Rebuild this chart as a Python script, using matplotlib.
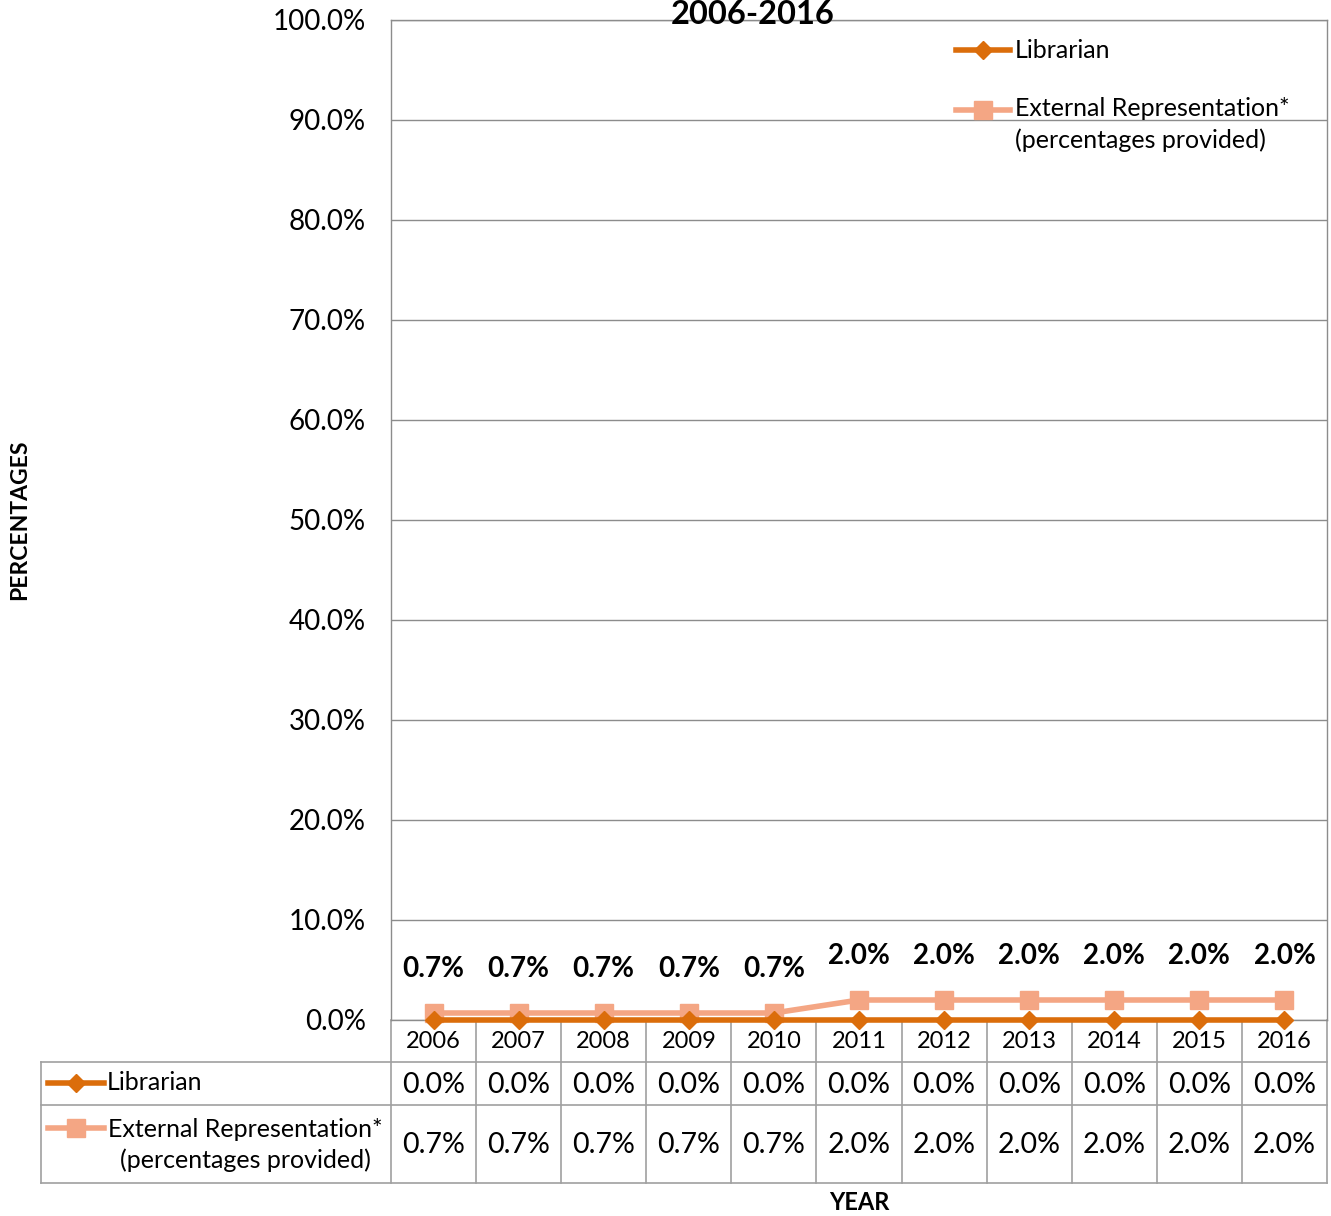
import numpy as np
import matplotlib.pyplot as plt
import matplotlib.transforms as mtransforms

plt.rcParams['font.family'] = ['Lato', 'DejaVu Sans']

years = ['2006', '2007', '2008', '2009', '2010', '2011', '2012', '2013', '2014', '2015', '2016']
librarian = [0.0, 0.0, 0.0, 0.0, 0.0, 0.0, 0.0, 0.0, 0.0, 0.0, 0.0]
external = [0.7, 0.7, 0.7, 0.7, 0.7, 2.0, 2.0, 2.0, 2.0, 2.0, 2.0]
names = ['Librarian', 'External Representation*\n(percentages provided)']
yticks = np.arange(0, 101, 10)

c_lib = '#DB6D0B'
c_ext = '#F4A684'
c_grid = '#8C8C8C'

W, H = 1331, 1216
fig = plt.figure(figsize=(W / 100, H / 100), dpi=100)
L, R, T, B = 391, 1327, 20, 1020
ax = fig.add_axes([L / W, 1 - B / H, (R - L) / W, (B - T) / H])

# pixel -> axes fraction helpers for layout
def fx(px):
    return (px - L) / (R - L)

def fy(py):
    return (B - py) / (B - T)

x = np.arange(len(years))
ax.set_xlim(-0.5, len(years) - 0.5)
ax.set_ylim(0, 100)
ax.set_yticks(yticks)
ax.set_yticklabels([f'{v:.1f}%' for v in yticks], fontsize=20)
ax.set_xticks([])
ax.tick_params(axis='y', length=0, pad=18)
ax.yaxis.grid(True, color=c_grid, lw=1)
ax.set_axisbelow(True)
for s in ax.spines.values():
    s.set_color(c_grid)
    s.set_linewidth(1)

ax.plot(x, external, color=c_ext, lw=4, marker='s', ms=13, clip_on=False, zorder=3)
ax.plot(x, librarian, color=c_lib, lw=4, marker='D', ms=9, clip_on=False, zorder=4)

for i, v in enumerate(external):
    ax.annotate(f'{v:.1f}%', (x[i], v), xytext=(0, 32), textcoords='offset points',
                ha='center', va='center', fontsize=20, fontweight='bold')

# legend (top right)
for name, c, mk, ms, py in [(names[0], c_lib, 'D', 9, 50), (names[1], c_ext, 's', 13, 110)]:
    ax.plot([fx(956), fx(1010)], [fy(py)] * 2, color=c, lw=4, transform=ax.transAxes, clip_on=False)
    ax.plot([fx(983)], [fy(py)], color=c, marker=mk, ms=ms, transform=ax.transAxes, clip_on=False)
ax.text(fx(1015), fy(50), names[0], transform=ax.transAxes, fontsize=18, va='center', ha='left')
ax.text(fx(1015), fy(97), names[1], transform=ax.transAxes, fontsize=18, va='top', ha='left',
        linespacing=1.45)

# data table
bt = mtransforms.blended_transform_factory(ax.transData, ax.transAxes)
tc = '#A0A0A0'
for py in [1062, 1105, 1183]:
    ax.plot([fx(41), 1.0], [fy(py)] * 2, color=tc, lw=1.2, transform=ax.transAxes, clip_on=False)
ax.plot([fx(41)] * 2, [fy(1062), fy(1183)], color=tc, lw=1.2, transform=ax.transAxes, clip_on=False)
for b in np.arange(len(years) + 1) - 0.5:
    ax.plot([b, b], [0, fy(1183)], color=tc, lw=1.2, transform=bt, clip_on=False)

for i in x:
    ax.text(i, fy(1042), years[i], transform=bt, ha='center', va='center', fontsize=17)
    ax.text(i, fy(1085), f'{librarian[i]:.1f}%', transform=bt, ha='center', va='center', fontsize=20.5)
    ax.text(i, fy(1145), f'{external[i]:.1f}%', transform=bt, ha='center', va='center', fontsize=20.5)

for c, mk, ms, py in [(c_lib, 'D', 9, 1083), (c_ext, 's', 13, 1128)]:
    ax.plot([fx(48), fx(104)], [fy(py)] * 2, color=c, lw=4, transform=ax.transAxes, clip_on=False)
    ax.plot([fx(76)], [fy(py)], color=c, marker=mk, ms=ms, transform=ax.transAxes, clip_on=False)
ax.text(fx(107), fy(1083), names[0], transform=ax.transAxes, fontsize=18, va='center', ha='left')
ax.text(fx(245), fy(1145), names[1], transform=ax.transAxes, fontsize=18, va='center', ha='center',
        multialignment='center', linespacing=1.35)

fig.text(753 / W, 1 - 14 / H, '2006-2016', fontsize=23.5, fontweight='bold', ha='center', va='center')
fig.text(20 / W, 1 - 520 / H, 'PERCENTAGES', fontsize=16.5, fontweight='bold', rotation=90,
         ha='center', va='center')
fig.text(859 / W, 1 - 1203 / H, 'YEAR', fontsize=17, fontweight='bold', ha='center', va='center')

fig.savefig('out.png', dpi=100)
